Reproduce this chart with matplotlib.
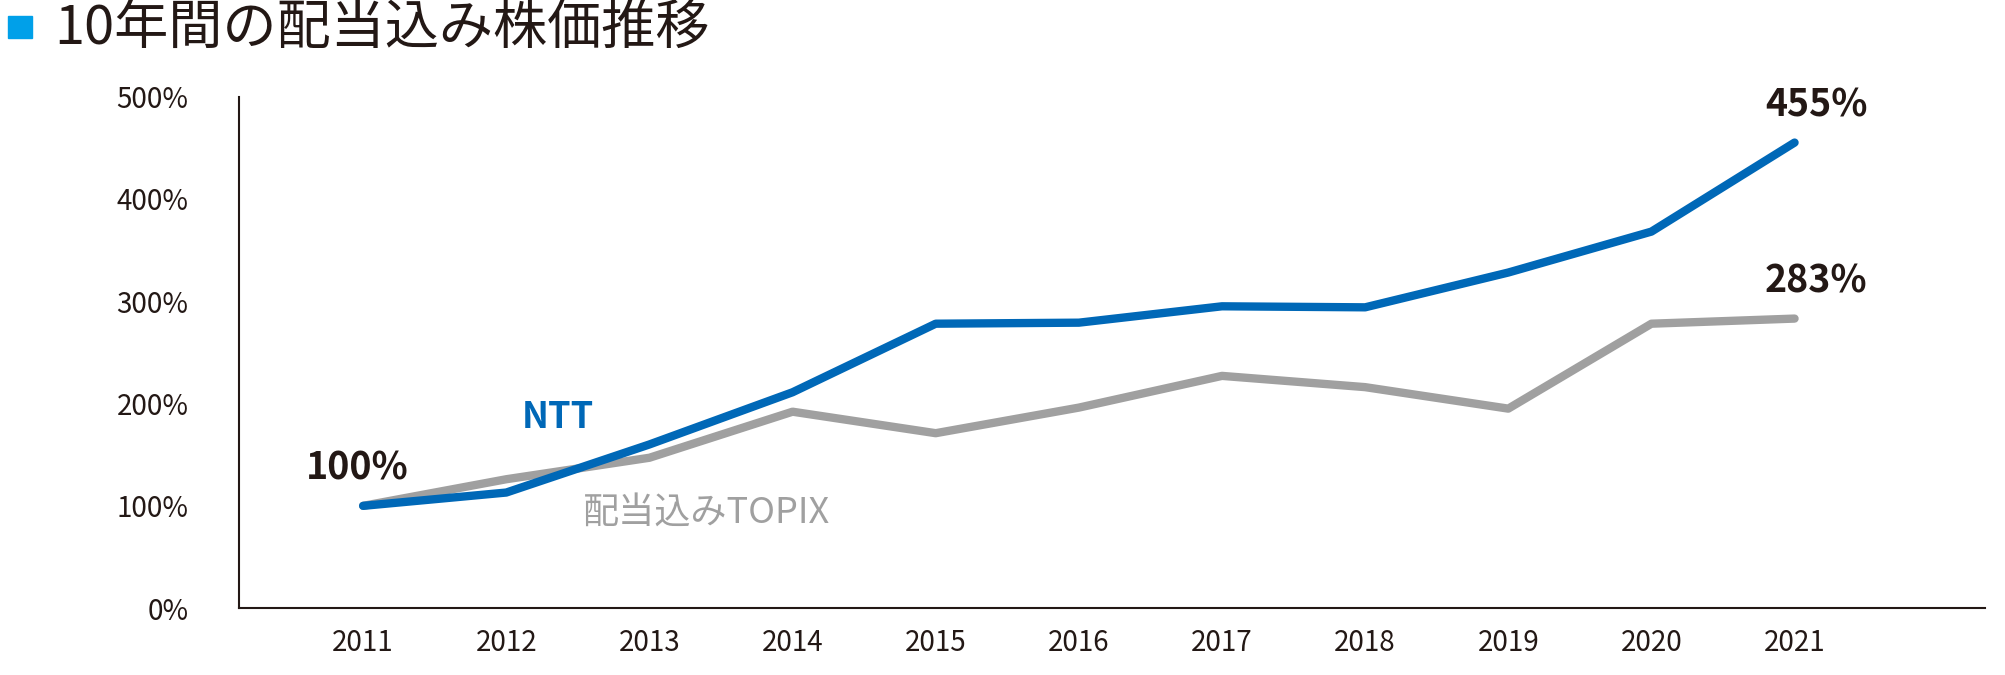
import matplotlib
matplotlib.use("Agg")
import matplotlib.pyplot as plt

plt.rcParams['font.family'] = ['Noto Sans CJK JP', 'DejaVu Sans']

years = [2011, 2012, 2013, 2014, 2015, 2016, 2017, 2018, 2019, 2020, 2021]
ntt = [100, 113, 160, 211, 278, 279, 295, 294, 328, 368, 455]
topix = [100, 126, 147, 192, 171, 196, 227, 216, 195, 278, 283]
yticks = [0, 100, 200, 300, 400, 500]

fig = plt.figure(figsize=(20.05, 6.75), dpi=100)
ax = fig.add_axes([0.119, 0.099, 0.871, 0.758])
c_ntt = '#0068b7'
c_top = '#a0a0a0'
ax.plot(years, topix, color=c_top, lw=6, solid_capstyle='round')
ax.plot(years, ntt, color=c_ntt, lw=6, solid_capstyle='round')
ax.set_xlim(2010.13, 2022.33)
ax.set_ylim(0, 500)
ax.set_xticks(years)
ax.set_xticklabels([str(y) for y in years])
ax.set_yticks(yticks)
ax.set_yticklabels([f'{v}%' for v in yticks])
ax.tick_params(length=0, labelsize=20, colors='#231815', pad=14)
ax.tick_params(axis='y', pad=36)
for s in ['top', 'right']:
    ax.spines[s].set_visible(False)
for s in ['left', 'bottom']:
    ax.spines[s].set_color('#231815')
    ax.spines[s].set_linewidth(1.5)

ax.text(years[0] - 0.4, ntt[0] + 18, f'{ntt[0]}%', fontsize=27, fontweight='bold', color='#231815', va='bottom')
ax.text(years[-1] + 0.15, ntt[-1] + 18, f'{ntt[-1]}%', fontsize=27, fontweight='bold', color='#231815', va='bottom', ha='center')
ax.text(years[-1] + 0.15, topix[-1] + 18, f'{topix[-1]}%', fontsize=27, fontweight='bold', color='#231815', va='bottom', ha='center')
ax.text(2012.36, 186, 'NTT', fontsize=26, fontweight='bold', color=c_ntt, ha='center', va='center')
ax.text(2013.4, 92, '配当込みTOPIX', fontsize=26, color=c_top, ha='center', va='center')

fig.patches.append(plt.Rectangle((0.004, 0.943), 0.012, 0.034, transform=fig.transFigure, color='#00a0e9'))
fig.text(0.027, 0.958, '10年間の配当込み株価推移', fontsize=39, color='#231815', va='center')
fig.savefig('out.png', dpi=100)
